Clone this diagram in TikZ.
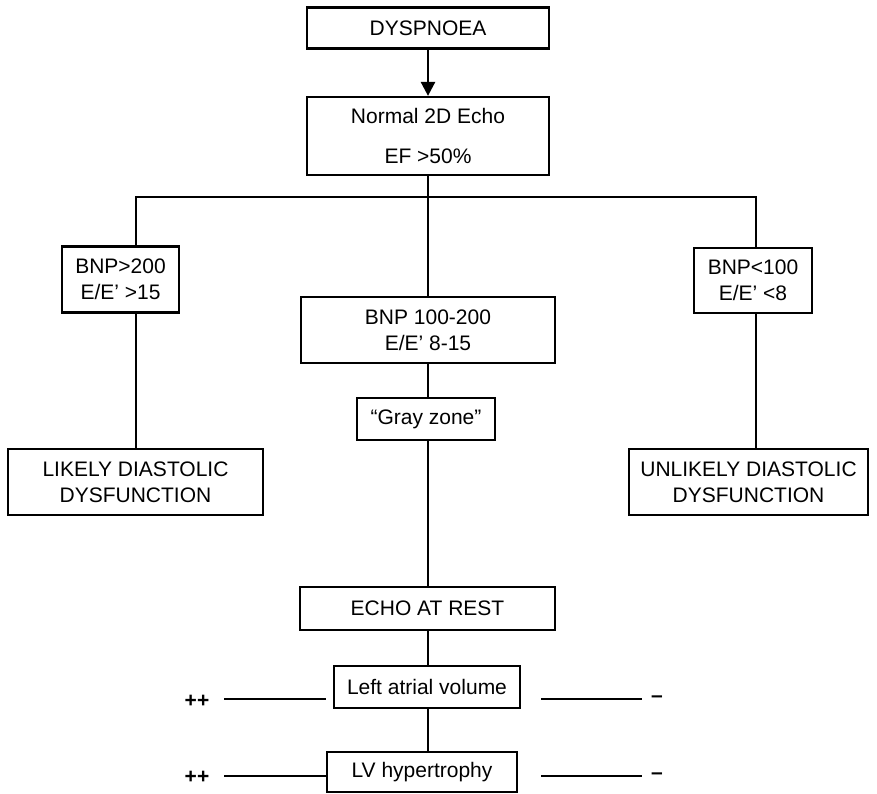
\documentclass[tikz,border=0pt]{standalone}
\usepackage{fontspec}
\setmainfont{Liberation Sans}
\usetikzlibrary{arrows.meta}

\tikzset{
	box/.style={draw, line width=2.2pt, inner sep=0pt, align=center, font=\fontsize{21}{26}\selectfont},
	link/.style={line width=2.2pt},
	thinlink/.style={line width=1.1pt},
	sign/.style={inner sep=0pt, font=\fontsize{21}{26}\selectfont\bfseries},
}

\begin{document}
\begin{tikzpicture}[x=1pt, y=-1pt]
	%%%%% START %%%%%
	\useasboundingbox (0, 0) rectangle (877, 794);

	\node[box, minimum width=242, minimum height=41] (dysp) at (428, 28) {DYSPNOEA};
	\node[box, minimum width=242, minimum height=78] (echo) at (428, 136) {Normal 2D Echo\\[14pt]EF >50\%};

	\node[box, minimum width=117, minimum height=66] (bnphi) at (120.5, 279.5) {BNP>200\\E/E' >15};
	\node[box, minimum width=254, minimum height=66] (bnpmid) at (428, 330) {BNP 100-200\\E/E' 8-15};
	\node[box, minimum width=118, minimum height=65] (bnplo) at (753, 280.5) {BNP<100\\E/E' <8};

	\node[box, minimum width=138, minimum height=42] (gray) at (426, 419) {``Gray zone''};
	\node[box, minimum width=255, minimum height=66] (likely) at (135.5, 482) {LIKELY DIASTOLIC\\DYSFUNCTION};
	\node[box, minimum width=239, minimum height=66] (unlikely) at (748.5, 482) {UNLIKELY DIASTOLIC\\DYSFUNCTION};

	\node[box, minimum width=255, minimum height=43] (rest) at (427.5, 608.5) {ECHO AT REST};
	\node[box, minimum width=186, minimum height=42] (lav) at (427, 687) {Left atrial volume};
	\node[box, minimum width=190, minimum height=40] (lvh) at (422, 772) {LV hypertrophy};

	% arrow and branches
	\draw[line width=2.6pt, -{Triangle[width=14pt, length=14pt]}] (dysp.south) -- (echo.north);

	\coordinate (hl) at (136, 197);
	\coordinate (hr) at (756, 197);
	\draw[link] (echo.south) -- (bnpmid.north);
	\draw[link] (hl |- bnphi.north) -- (hl) -- (hr) -- (hr |- bnplo.north);
	\draw[link] (hl |- bnphi.south) -- (hl |- likely.north);
	\draw[link] (hr |- bnplo.south) -- (hr |- unlikely.north);

	\draw[link] (bnpmid.south) -- (bnpmid.south |- gray.north);
	\draw[link] (bnpmid.south |- gray.south) -- (rest.north -| bnpmid.south);
	\draw[link] (rest.south -| bnpmid.south) -- (lav.north -| bnpmid.south);
	\draw[link] (lav.south -| bnpmid.south) -- (lvh.north -| bnpmid.south);

	% ++ and -- sides
	\node[sign] (pp1) at (197, 701) {++};
	\node[sign] (pp2) at (197, 777) {++};
	\node[sign] (mm1) at (657, 699) {--};
	\node[sign] (mm2) at (657, 776) {--};

	\coordinate (la1) at (224, 699);
	\coordinate (lb1) at (326, 699);
	\coordinate (ra1) at (541, 699);
	\coordinate (rb1) at (642, 699);
	\coordinate (la2) at (224, 776);
	\coordinate (ra2) at (541, 776);
	\coordinate (rb2) at (642, 776);

	\draw[thinlink] (la1) -- (lb1);
	\draw[thinlink] (ra1) -- (rb1);
	\draw[thinlink] (la2) -- (lvh.west |- la2);
	\draw[thinlink] (ra2) -- (rb2);

	%%%%% END %%%%%
\end{tikzpicture}
\end{document}
